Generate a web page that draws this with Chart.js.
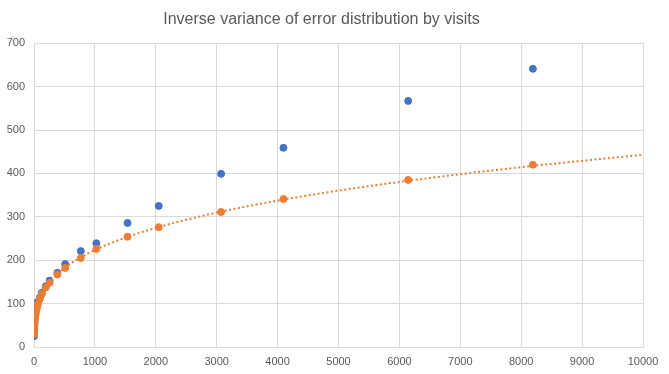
<!DOCTYPE html>
<html>
<head>
<meta charset="utf-8">
<script src="https://cdn.jsdelivr.net/npm/chart.js@4/dist/chart.umd.min.js"></script>
<style>
  html, body { margin: 0; padding: 0; background: #fff; }
  #wrap { width: 669px; height: 374px; }
</style>
</head>
<body>
<div id="wrap"><canvas id="chart1" width="669" height="374"></canvas></div>
<script>
// visits (x) and the two series
const visits = [1, 2, 3, 4, 6, 8, 12, 16, 24, 32, 48, 64, 96, 128, 192, 256, 384, 512, 768, 1024, 1536, 2048, 3072, 4096, 6144, 8192];
const blueValues = [25, 34, 41, 46, 53, 59, 67, 73, 81, 88, 97, 104, 114, 125, 140, 153, 171, 191, 221, 239, 286, 325, 399, 459, 567, 641];
const orangeValues = [29, 35, 40, 43, 49, 53, 60, 66, 74, 80, 90, 99, 111, 122, 137, 148, 167, 182, 205, 226, 254, 276, 311, 341, 385, 420];
const yTicks = [0, 100, 200, 300, 400, 500, 600, 700];
const xMax = 10000;

const blueColor = '#4472C4';
const orangeColor = '#ED7D31';
const textColor = '#595959';
const gridColor = '#d9d9d9';

function toPoints(xs, ys) {
    return xs.map((x, i) => ({ x: x, y: ys[i] }));
}

// power trendline (least squares in log space) fitted to the orange series, like Excel does
function powerFit(xs, ys) {
    const n = xs.length;
    let sx = 0, sy = 0, sxx = 0, sxy = 0;
    for (let i = 0; i < n; i++) {
        const lx = Math.log(xs[i]), ly = Math.log(ys[i]);
        sx += lx; sy += ly; sxx += lx * lx; sxy += lx * ly;
    }
    const b = (n * sxy - sx * sy) / (n * sxx - sx * sx);
    const a = Math.exp((sy - b * sx) / n);
    return { a: a, b: b };
}

const fit = powerFit(visits, orangeValues);
const trendX = [];
for (let x = 1; x < 200; x *= 1.15) trendX.push(x);
for (let x = 200; x <= xMax; x += 100) trendX.push(x);
const trendPoints = trendX.map(x => ({ x: x, y: fit.a * Math.pow(x, fit.b) }));

const ctx = document.getElementById('chart1').getContext('2d');
const chart = new Chart(ctx, {
    type: 'scatter',
    data: {
        datasets: [{
            label: 'Blue',
            data: toPoints(visits, blueValues),
            backgroundColor: blueColor,
            borderColor: blueColor,
            pointRadius: 3.5,
            pointHoverRadius: 3.5,
            order: 3
        }, {
            label: 'Trend',
            type: 'line',
            data: trendPoints,
            borderColor: orangeColor,
            borderWidth: 2,
            borderDash: [2, 2.5],
            pointRadius: 0,
            fill: false,
            tension: 0,
            order: 2
        }, {
            label: 'Orange',
            data: toPoints(visits, orangeValues),
            backgroundColor: orangeColor,
            borderColor: orangeColor,
            pointRadius: 3.5,
            pointHoverRadius: 3.5,
            order: 1
        }]
    },
    options: {
        responsive: false,
        animation: false,
        layout: { padding: { left: 0, right: 26, top: 0, bottom: 0 } },
        plugins: {
            legend: { display: false },
            tooltip: { enabled: false },
            title: {
                display: true,
                text: 'Inverse variance of error distribution by visits',
                color: textColor,
                font: { family: 'Liberation Sans', size: 16, weight: 'normal' },
                padding: { top: 10, bottom: 14 }
            }
        },
        scales: {
            x: {
                type: 'linear',
                min: 0,
                max: xMax,
                ticks: {
                    stepSize: 1000,
                    color: textColor,
                    font: { family: 'Liberation Sans', size: 11 },
                    padding: 8,
                    maxRotation: 0,
                    callback: v => String(v)
                },
                grid: { color: gridColor, drawTicks: false },
                border: { color: gridColor },
                afterFit: s => { s.height = 27; }
            },
            y: {
                min: 0,
                max: 700,
                afterBuildTicks: s => { s.ticks = yTicks.map(v => ({ value: v })); },
                ticks: {
                    color: textColor,
                    font: { family: 'Liberation Sans', size: 11 },
                    padding: 9
                },
                grid: { color: gridColor, drawTicks: false },
                border: { color: gridColor },
                afterFit: s => { s.width = 34; }
            }
        }
    }
});
</script>
</body>
</html>
